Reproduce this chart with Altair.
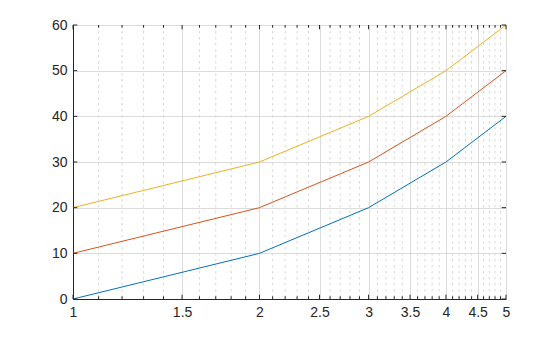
import altair as alt
import pandas as pd

x_vals = [1, 2, 3, 4, 5]
series_a = [0, 10, 20, 30, 40]
series_b = [10, 20, 30, 40, 50]
series_c = [20, 30, 40, 50, 60]
series_names = ["a", "b", "c"]
series_colors = ["#0072BD", "#D95319", "#EDB120"]

major_x = [1, 1.5, 2, 2.5, 3, 3.5, 4, 4.5, 5]
minor_x = [1.1, 1.2, 1.3, 1.4, 1.6, 1.7, 1.8, 1.9,
           2.1, 2.2, 2.3, 2.4, 2.6, 2.7, 2.8, 2.9,
           3.1, 3.2, 3.3, 3.4, 3.6, 3.7, 3.8, 3.9,
           4.1, 4.2, 4.3, 4.4, 4.6, 4.7, 4.8, 4.9]
y_ticks = [0, 10, 20, 30, 40, 50, 60]

W, H = 433, 274
INK = "#262626"
FONT = "Liberation Sans"
FS = 14

rows = []
for name, vals in zip(series_names, [series_a, series_b, series_c]):
    for xv, yv in zip(x_vals, vals):
        rows.append({"x": xv, "y": yv, "s": name})
df = pd.DataFrame(rows)

xscale = alt.Scale(type="log", domain=[1, 5], nice=False)
yscale = alt.Scale(domain=[0, 60], nice=False)

x_axis = alt.Axis(values=major_x, grid=True, ticks=False, format="~g",
                  title=None, labelPadding=6, labelFlush=False,
                  labelFont=FONT, labelFontSize=FS, labelColor=INK,
                  domainColor=INK, gridColor="#dcdcdc")
y_axis = alt.Axis(values=y_ticks, grid=True, ticks=False, title=None,
                  labelPadding=6, labelFont=FONT, labelFontSize=FS, labelColor=INK,
                  domainColor=INK, gridColor="#dcdcdc")

lines = alt.Chart(df).mark_line(strokeWidth=1, clip=False).encode(
    x=alt.X("x:Q", scale=xscale, axis=x_axis),
    y=alt.Y("y:Q", scale=yscale, axis=y_axis),
    color=alt.Color("s:N", scale=alt.Scale(domain=series_names, range=series_colors), legend=None),
)

minor_df = pd.DataFrame({"x": minor_x})
major_df = pd.DataFrame({"x": major_x})
yt_df = pd.DataFrame({"y": y_ticks})

minor_grid = alt.Chart(minor_df).mark_rule(color="#d8d8d8", strokeWidth=1, strokeDash=[2.5, 3.5]).encode(
    x=alt.X("x:Q", scale=xscale, axis=x_axis)
)

def xticks(df_, length, top):
    if top:
        yv, y2v = 0, length
    else:
        yv, y2v = H, H - length
    return alt.Chart(df_).mark_rule(color=INK, strokeWidth=1).encode(
        x=alt.X("x:Q", scale=xscale, axis=x_axis),
        y=alt.value(yv), y2=alt.value(y2v))

def yticks(length, right):
    if right:
        xv, x2v = W, W - length
    else:
        xv, x2v = 0, length
    return alt.Chart(yt_df).mark_rule(color=INK, strokeWidth=1).encode(
        y=alt.Y("y:Q", scale=yscale, axis=y_axis),
        x=alt.value(xv), x2=alt.value(x2v))

chart = alt.layer(
    minor_grid,
    lines,
    xticks(major_df, 4.3, False), xticks(major_df, 4.3, True),
    xticks(minor_df, 2.7, False), xticks(minor_df, 2.7, True),
    yticks(4.3, False), yticks(4.3, True),
).properties(
    width=W, height=H,
    autosize=alt.AutoSizeParams(type="none"),
    padding={"left": 73, "top": 25, "right": 54, "bottom": 38},
).configure_view(
    stroke=INK, strokeWidth=1
).configure(background="white")

chart.save("out.html", embed_options={"renderer": "svg", "actions": False})
